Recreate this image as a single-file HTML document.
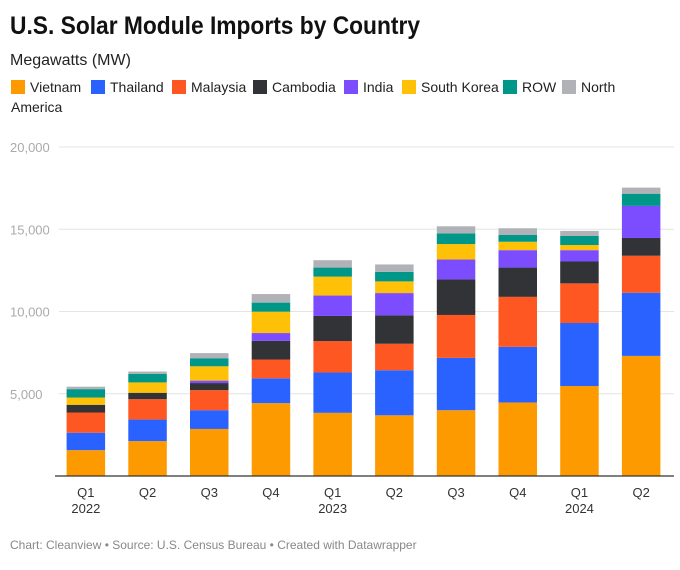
<!DOCTYPE html>
<html><head><meta charset="utf-8"><style>
body{margin:0;background:#fff;font-family:"Liberation Sans",sans-serif;}
svg text{font-family:"Liberation Sans",sans-serif;}
</style></head><body>
<svg id="chart" width="680" height="565" xmlns="http://www.w3.org/2000/svg">
<text x="10" y="34" font-size="25" font-weight="bold" fill="#111" textLength="410" lengthAdjust="spacingAndGlyphs">U.S. Solar Module Imports by Country</text>
<text x="10" y="65" font-size="16" fill="#222">Megawatts (MW)</text>
<g id="legend"></g>
<g id="grid"></g><g id="bars"></g><g id="xaxis"></g>
<text x="10" y="549" font-size="12" fill="#888">Chart: Cleanview • Source: U.S. Census Bureau • Created with Datawrapper</text>
</svg>
<script>
const categories=["Q1|2022","Q2","Q3","Q4","Q1|2023","Q2","Q3","Q4","Q1|2024","Q2"];
const seriesNames=["Vietnam","Thailand","Malaysia","Cambodia","India","South Korea","ROW","North America"];
const vietnam=[1570,2120,2860,4430,3840,3690,4000,4470,5470,7300];
const thailand=[1060,1310,1140,1510,2450,2740,3180,3380,3830,3840];
const malaysia=[1230,1240,1220,1140,1910,1610,2610,3040,2410,2250];
const cambodia=[470,390,430,1140,1530,1730,2160,1780,1330,1080];
const india=[0,0,150,470,1240,1350,1210,1060,690,1950];
const southKorea=[440,630,870,1300,1150,710,940,510,310,0];
const row=[510,510,490,550,550,580,650,410,550,740];
const northAmerica=[150,150,310,520,450,450,430,410,310,370];
const yTicks=[5000,10000,15000,20000];
const colors=["#fd9a00","#2962ff","#fe5722","#323337","#7c4dff","#ffc107","#009688","#b0b2b8"];
const series=[vietnam,thailand,malaysia,cambodia,india,southKorea,row,northAmerica];
const NS="http://www.w3.org/2000/svg";
const x0=55,band=61.7,bw=38.5,yBase=476,yTop=147,yMax=20000;
const y=v=>yBase-(v/yMax)*(yBase-yTop);
const xc=i=>x0+band*(i+0.5);
function mk(tag,attrs,parent){const e=document.createElementNS(NS,tag);for(const k in attrs)e.setAttribute(k,attrs[k]);parent.appendChild(e);return e;}
const grid=document.getElementById('grid');
yTicks.forEach(t=>{
 const l=mk('line',{x1:59,x2:674,y1:y(t),y2:y(t),stroke:'#e4e4e4','stroke-width':1},grid);
 
 
 const tx=mk('text',{x:10,y:y(t)+5,'font-size':13,fill:'#aaa'},grid);
 tx.textContent=t.toLocaleString('en-US');
 
 
});
const bars=document.getElementById('bars');
categories.forEach((c,i)=>{
 let cum=0;
 series.forEach((s,k)=>{
  const v=s[i]; if(v<=0){return;}
  const r=mk('rect',{x:xc(i)-bw/2,y:y(cum+v),width:bw,height:y(cum)-y(cum+v),fill:colors[k]},bars);
  
  
  cum+=v;
 });
});
const xa=document.getElementById('xaxis');
const ax=mk('line',{x1:55,x2:674,y1:yBase,y2:yBase,stroke:'#333','stroke-width':1.3},xa);


categories.forEach((c,i)=>{
 c.split('|').forEach((p,j)=>{
  const t=mk('text',{x:xc(i),y:497+j*16,'font-size':13,fill:'#333','text-anchor':'middle'},xa);
  t.textContent=p;
  
  
 });
});
const lg=document.getElementById('legend');
const lx=[11,91,172,253,344,402,503,562];
seriesNames.forEach((n,k)=>{
 const r=mk('rect',{x:lx[k],y:80,width:14,height:14,fill:colors[k]},lg);
 
 
 const t=mk('text',{x:lx[k]+19,y:92,'font-size':14,fill:'#222'},lg);
 t.textContent=k===7?'North':n;
 
 
});
const am=mk('text',{x:11,y:112,'font-size':14,fill:'#222'},lg);
am.textContent='America';


</script>
</body></html>
